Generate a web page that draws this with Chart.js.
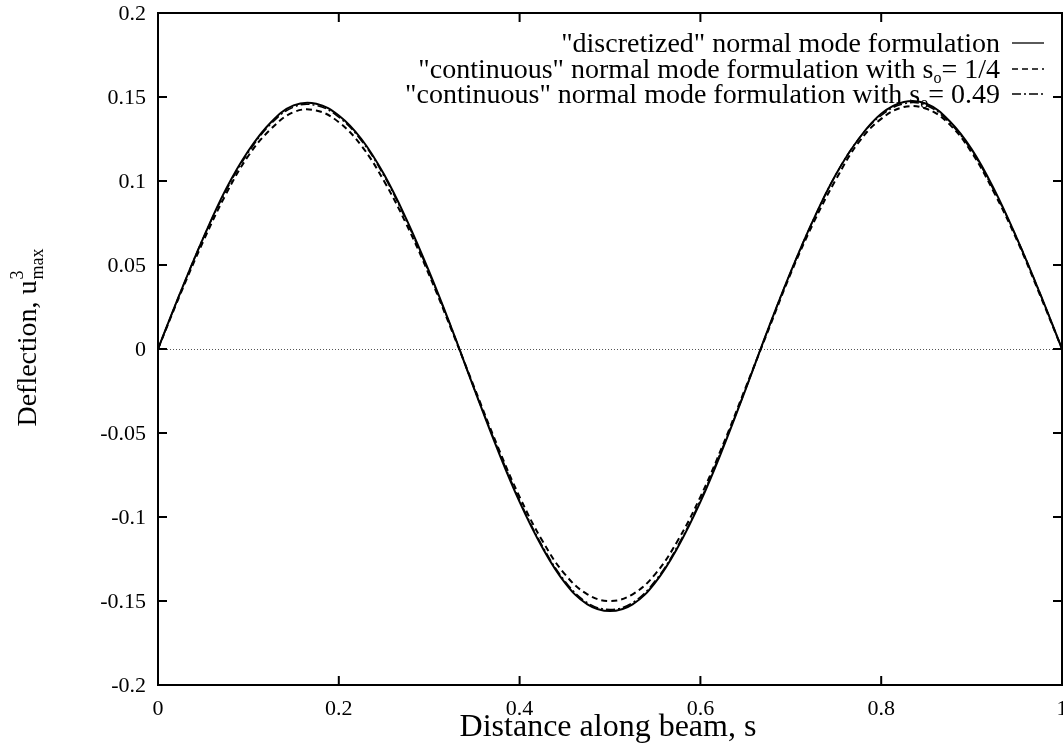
<!DOCTYPE html>
<html>
<head>
<meta charset="utf-8">
<script src="https://cdn.jsdelivr.net/npm/chart.js@4/dist/chart.umd.min.js"></script>
<style>
  html, body { margin: 0; padding: 0; background: #fff; }
  #wrap { width: 1063px; height: 745px; position: relative; }
</style>
</head>
<body>
<div id="wrap"><canvas id="c" width="1063" height="745"></canvas></div>
<script>
// ---- data ----
const sValues = [0, 0.025, 0.05, 0.075, 0.1, 0.125, 0.15, 0.175, 0.2, 0.225, 0.25, 0.275, 0.3, 0.325, 0.35, 0.375, 0.4, 0.425, 0.45, 0.475, 0.5,
                 0.525, 0.55, 0.575, 0.6, 0.625, 0.65, 0.675, 0.7, 0.725, 0.75, 0.775, 0.8, 0.825, 0.85, 0.875, 0.9, 0.925, 0.95, 0.975, 1];
const discretized = [0, 0.034, 0.066, 0.095, 0.118, 0.135, 0.145, 0.146, 0.139, 0.125, 0.104, 0.077, 0.046, 0.012, -0.024, -0.059, -0.091, -0.118, -0.139, -0.152, -0.156,
                     -0.152, -0.139, -0.118, -0.091, -0.059, -0.024, 0.012, 0.046, 0.077, 0.104, 0.125, 0.140, 0.147, 0.146, 0.136, 0.119, 0.095, 0.066, 0.034, 0];
const continuousQuarter = [0, 0.033, 0.064, 0.092, 0.115, 0.131, 0.141, 0.142, 0.135, 0.121, 0.100, 0.074, 0.044, 0.011, -0.023, -0.057, -0.088, -0.114, -0.134, -0.146, -0.150,
                           -0.146, -0.134, -0.114, -0.088, -0.057, -0.023, 0.011, 0.045, 0.075, 0.101, 0.123, 0.137, 0.144, 0.143, 0.134, 0.117, 0.093, 0.065, 0.033, 0];
const continuous049 = [0, 0.034, 0.066, 0.094, 0.117, 0.134, 0.144, 0.145, 0.138, 0.124, 0.103, 0.076, 0.045, 0.012, -0.024, -0.058, -0.090, -0.117, -0.138, -0.151, -0.155,
                       -0.151, -0.138, -0.117, -0.090, -0.058, -0.024, 0.012, 0.046, 0.077, 0.104, 0.125, 0.139, 0.146, 0.145, 0.135, 0.118, 0.094, 0.066, 0.034, 0];
const xTicks = [0, 0.2, 0.4, 0.6, 0.8, 1];
const yTicks = [-0.2, -0.15, -0.1, -0.05, 0, 0.05, 0.1, 0.15, 0.2];
const seriesLabels = ['"discretized" normal mode formulation',
                      '"continuous" normal mode formulation with s|o|= 1/4',
                      '"continuous" normal mode formulation with s|o|= 0.49'];
const xTitle = 'Distance along beam, s';
const yTitleParts = ['Deflection, u', '3', 'max'];

const SERIF = '"Liberation Serif", "DejaVu Serif", serif';
const dashes = [[], [6, 4], [9, 3, 2, 3]];

function pts(ys) { return sValues.map((s, i) => ({ x: s, y: ys[i] })); }
function fmt(v) { return String(Number(v.toFixed(2))); }

const decor = {
  id: 'decor',
  beforeDatasetsDraw(chart) {
    const { ctx, chartArea: a, scales: { y } } = chart;
    ctx.save();
    ctx.strokeStyle = '#555';
    ctx.lineWidth = 1;
    ctx.setLineDash([1, 2]);
    const y0 = Math.round(y.getPixelForValue(0)) + 0.5;
    ctx.beginPath(); ctx.moveTo(a.left, y0); ctx.lineTo(a.right, y0); ctx.stroke();
    ctx.restore();
  },
  afterDatasetsDraw(chart) {
    const { ctx, chartArea: a, scales: { x, y } } = chart;
    ctx.save();
    ctx.strokeStyle = '#000';
    ctx.lineWidth = 2;
    ctx.strokeRect(a.left, a.top, a.right - a.left, a.bottom - a.top);
    const L = 9;
    ctx.beginPath();
    xTicks.forEach(v => {
      const px = x.getPixelForValue(v);
      ctx.moveTo(px, a.bottom); ctx.lineTo(px, a.bottom - L);
      ctx.moveTo(px, a.top); ctx.lineTo(px, a.top + L);
    });
    yTicks.forEach(v => {
      const py = y.getPixelForValue(v);
      ctx.moveTo(a.left, py); ctx.lineTo(a.left + L, py);
      ctx.moveTo(a.right, py); ctx.lineTo(a.right - L, py);
    });
    ctx.stroke();

    // tick labels
    ctx.fillStyle = '#000';
    ctx.font = '22px ' + SERIF;
    ctx.textBaseline = 'middle';
    ctx.textAlign = 'right';
    yTicks.forEach(v => ctx.fillText(fmt(v), a.left - 12, y.getPixelForValue(v) + 1));
    ctx.textAlign = 'center';
    ctx.textBaseline = 'alphabetic';
    xTicks.forEach(v => ctx.fillText(fmt(v), x.getPixelForValue(v), 715));

    // x title
    ctx.font = '32px ' + SERIF;
    ctx.textAlign = 'center';
    ctx.fillText(xTitle, (a.left + a.right) / 2 - 2, 736);

    // y title rotated with super/subscript
    ctx.save();
    ctx.translate(36, 338);
    ctx.rotate(-Math.PI / 2);
    ctx.font = '28px ' + SERIF;
    const w0 = ctx.measureText(yTitleParts[0]).width;
    ctx.font = '18px ' + SERIF;
    const w1 = ctx.measureText(yTitleParts[1]).width;
    const w2 = ctx.measureText(yTitleParts[2]).width;
    const total = w0 + Math.max(w1, w2);
    const sx = -total / 2;
    ctx.textAlign = 'left';
    ctx.font = '28px ' + SERIF;
    ctx.fillText(yTitleParts[0], sx, 0);
    ctx.font = '18px ' + SERIF;
    ctx.fillText(yTitleParts[1], sx + w0 + 1, -13);
    ctx.fillText(yTitleParts[2], sx + w0 + 1, 7);
    ctx.restore();

    // legend
    const rightX = 1000;
    const rowY = [52, 78, 103];
    chart.data.datasets.forEach((ds, i) => {
      const parts = ds.label.split('|');
      const fonts = parts.map((p, k) => (k === 1 ? '16px ' : '28px ') + SERIF);
      const ws = parts.map((p, k) => { ctx.font = fonts[k]; return ctx.measureText(p).width; });
      const tw = ws.reduce((s, w) => s + w, 0);
      let cx = rightX - tw;
      ctx.textAlign = 'left';
      parts.forEach((p, k) => {
        ctx.font = fonts[k];
        ctx.fillText(p, cx, rowY[i] + (k === 1 ? 5 : 0));
        cx += ws[k];
      });
      ctx.strokeStyle = '#000';
      ctx.lineWidth = 1.3;
      ctx.setLineDash(dashes[i]);
      ctx.beginPath();
      ctx.moveTo(1012, rowY[i] - 9); ctx.lineTo(1044, rowY[i] - 9);
      ctx.stroke();
      ctx.setLineDash([]);
    });
    ctx.restore();
  }
};

new Chart(document.getElementById('c'), {
  type: 'line',
  data: {
    datasets: [
      { label: seriesLabels[0], data: pts(discretized), borderColor: '#000', borderWidth: 2, borderDash: dashes[0], pointRadius: 0, tension: 0.4 },
      { label: seriesLabels[1], data: pts(continuousQuarter), borderColor: '#000', borderWidth: 2, borderDash: dashes[1], pointRadius: 0, tension: 0.4 },
      { label: seriesLabels[2], data: pts(continuous049), borderColor: '#000', borderWidth: 1.5, borderDash: dashes[2], pointRadius: 0, tension: 0.4 }
    ]
  },
  options: {
    responsive: false,
    animation: false,
    devicePixelRatio: 1,
    layout: { padding: { top: 13, right: 1, left: 0, bottom: 0 } },
    plugins: { legend: { display: false }, tooltip: { enabled: false } },
    scales: {
      x: {
        type: 'linear', min: 0, max: 1,
        afterBuildTicks: s => { s.ticks = xTicks.map(v => ({ value: v })); },
        afterFit: s => { s.height = 60; },
        grid: { display: false, drawTicks: false },
        border: { display: false },
        ticks: { display: false }
      },
      y: {
        type: 'linear', min: -0.2, max: 0.2,
        afterBuildTicks: s => { s.ticks = yTicks.map(v => ({ value: v })); },
        afterFit: s => { s.width = 158; },
        grid: { display: false, drawTicks: false },
        border: { display: false },
        ticks: { display: false }
      }
    }
  },
  plugins: [decor]
});
</script>
</body>
</html>
